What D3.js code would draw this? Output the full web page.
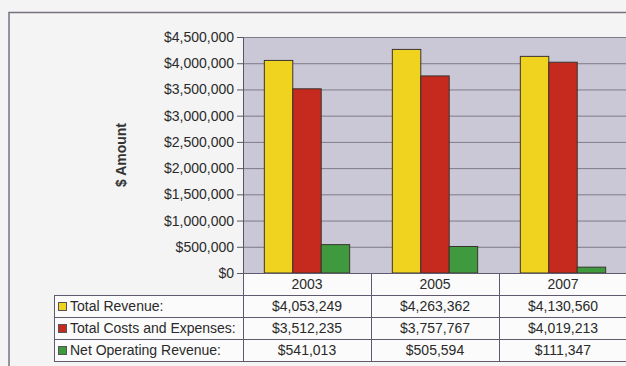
<!DOCTYPE html>
<html>
<head>
<meta charset="utf-8">
<script src="https://cdn.jsdelivr.net/npm/d3@7"></script>
<style>
  body { margin: 0; background: #f3f3f3; }
  svg { display: block; font-family: "Liberation Sans", Arial, sans-serif; }
</style>
</head>
<body>
<div id="chart"></div>
<script>
const years = ['2003', '2005', '2007'];
const seriesNames = ['Total Revenue:', 'Total Costs and Expenses:', 'Net Operating Revenue:'];
const totalRevenue = [4053249, 4263362, 4130560];
const totalCosts = [3512235, 3757767, 4019213];
const netOperating = [541013, 505594, 111347];
const yTicks = [0, 500000, 1000000, 1500000, 2000000, 2500000, 3000000, 3500000, 4000000, 4500000];
const colors = ['#f0d31e', '#c62a1f', '#3f9a3e'];

const series = [totalRevenue, totalCosts, netOperating];
const width = 626, height = 366;
const plot = { left: 243, right: 624, top: 37, bottom: 273 };
const rowH = 22;
const fs = 14;

const svg = d3.select('#chart').append('svg')
  .attr('width', width)
  .attr('height', height);

// page background + outer frame
svg.append('rect').attr('width', width).attr('height', height).attr('fill', '#f4f4f4');
svg.append('path')
  .attr('d', `M9,${height} V12.5 H${width}`)
  .attr('fill', 'none')
  .attr('stroke', '#77727e')
  .attr('stroke-width', 1.5);

const x = d3.scaleBand().domain(years).range([plot.left, plot.right + 3]);
const xInner = d3.scaleBand().domain(d3.range(series.length))
  .range([0, x.bandwidth()]).paddingInner(0).paddingOuter(0.75);
const y = d3.scaleLinear().domain([0, 4500000]).range([plot.bottom, plot.top]);

// plot area
svg.append('rect')
  .attr('x', plot.left).attr('y', plot.top)
  .attr('width', width - plot.left).attr('height', plot.bottom - plot.top)
  .attr('fill', '#cac8d6');

// gridlines
svg.append('g')
  .selectAll('line')
  .data(yTicks.slice(1))
  .join('line')
  .attr('x1', plot.left).attr('x2', width)
  .attr('y1', d => y(d) + 0.5).attr('y2', d => y(d) + 0.5)
  .attr('stroke', '#7f7a88')
  .attr('stroke-width', 1);

// bars
const groups = svg.append('g')
  .selectAll('g')
  .data(years)
  .join('g')
  .attr('transform', d => `translate(${x(d)},0)`);

groups.selectAll('rect')
  .data((d, i) => series.map((s, k) => ({ k, v: s[i] })))
  .join('rect')
  .attr('x', d => xInner(d.k))
  .attr('y', d => y(d.v))
  .attr('width', xInner.bandwidth())
  .attr('height', d => plot.bottom - y(d.v))
  .attr('fill', d => colors[d.k])
  .attr('stroke', '#3a3430')
  .attr('stroke-width', 1);

// y axis
const yAxis = svg.append('g')
  .attr('transform', `translate(${plot.left},0)`)
  .call(d3.axisLeft(y).tickValues(yTicks).tickSize(6).tickPadding(3)
    .tickFormat(d => '$' + d3.format(',')(d)));
yAxis.attr('font-size', fs).attr('font-family', null);
yAxis.select('.domain').attr('stroke', '#5a5566');
yAxis.selectAll('.tick line').attr('stroke', '#5a5566');
yAxis.selectAll('.tick text').attr('fill', '#2a2a2a');

svg.append('text')
  .attr('transform', 'translate(126,155) rotate(-90)')
  .attr('text-anchor', 'middle')
  .attr('font-weight', 'bold')
  .attr('font-size', 14)
  .attr('fill', '#333')
  .text('$ Amount');

// data table
const tableTop = plot.bottom;
const tableLeft = 54;
const lineColor = '#5f5a6e';

svg.append('rect')
  .attr('x', plot.left).attr('y', tableTop)
  .attr('width', width - plot.left).attr('height', rowH)
  .attr('fill', '#fbfbfb');
svg.append('rect')
  .attr('x', tableLeft).attr('y', tableTop + rowH)
  .attr('width', width - tableLeft).attr('height', rowH * 3)
  .attr('fill', '#fbfbfb');

svg.append('g')
  .selectAll('text')
  .data(years)
  .join('text')
  .attr('x', d => x(d) + x.bandwidth() / 2)
  .attr('y', tableTop + rowH / 2 + 5)
  .attr('text-anchor', 'middle')
  .attr('font-size', fs)
  .attr('fill', '#2a2a2a')
  .text(d => d);

// horizontal lines
const hLines = [
  [plot.left, tableTop], [tableLeft, tableTop + rowH], [tableLeft, tableTop + rowH * 2],
  [tableLeft, tableTop + rowH * 3], [tableLeft, tableTop + rowH * 4]
];
svg.append('g')
  .selectAll('line')
  .data(hLines)
  .join('line')
  .attr('x1', d => d[0]).attr('x2', width)
  .attr('y1', d => d[1] + 0.5).attr('y2', d => d[1] + 0.5)
  .attr('stroke', lineColor)
  .attr('stroke-width', 1.2);

// vertical lines
svg.append('line')
  .attr('x1', tableLeft + 0.5).attr('x2', tableLeft + 0.5)
  .attr('y1', tableTop + rowH).attr('y2', tableTop + rowH * 4)
  .attr('stroke', lineColor);
svg.append('g')
  .selectAll('line')
  .data(years)
  .join('line')
  .attr('x1', d => x(d) + 0.5).attr('x2', d => x(d) + 0.5)
  .attr('y1', tableTop).attr('y2', tableTop + rowH * 4)
  .attr('stroke', lineColor);

// table rows
const rows = svg.append('g')
  .selectAll('g')
  .data(seriesNames)
  .join('g')
  .attr('transform', (d, i) => `translate(0,${tableTop + rowH * (i + 1)})`);

rows.append('rect')
  .attr('x', tableLeft + 4.5).attr('y', rowH / 2 - 3.5)
  .attr('width', 8).attr('height', 8)
  .attr('fill', (d, i) => colors[i])
  .attr('stroke', '#555')
  .attr('stroke-width', 1);

rows.append('text')
  .attr('x', tableLeft + 16)
  .attr('y', rowH / 2 + 5)
  .attr('font-size', fs)
  .attr('fill', '#2a2a2a')
  .text(d => d);

rows.selectAll('text.val')
  .data((d, i) => series[i].map((v, j) => ({ v, year: years[j] })))
  .join('text')
  .attr('class', 'val')
  .attr('x', d => x(d.year) + x.bandwidth() / 2)
  .attr('y', rowH / 2 + 5)
  .attr('text-anchor', 'middle')
  .attr('font-size', fs)
  .attr('fill', '#2a2a2a')
  .text(d => '$' + d3.format(',')(d.v));
</script>
</body>
</html>
